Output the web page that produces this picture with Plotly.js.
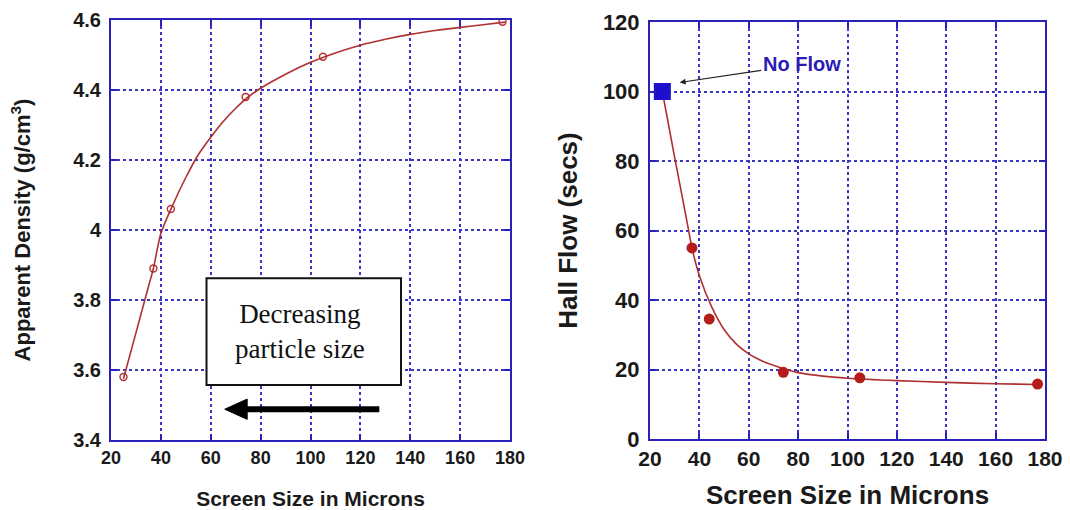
<!DOCTYPE html>
<html>
<head>
<meta charset="utf-8">
<script src="https://cdn.plot.ly/plotly-3.0.1.min.js"></script>
<style>html,body{margin:0;padding:0;background:#fff;}#chart{width:1070px;height:510px;}</style>
</head>
<body>
<div id="chart"></div>
<script>
// ---- Data ----
// Left panel: apparent density
const densityScreen = [25, 37, 44, 74, 105, 177];
const densityValues = [3.58, 3.89, 4.06, 4.38, 4.495, 4.595];
// smooth fitted curve
const densityFitX = [25, 30, 35, 37, 40, 45, 50, 55, 60, 65, 70, 75, 80, 90, 100, 110, 120, 130, 140, 150, 160, 170, 178];
const densityFitY = [3.575, 3.706, 3.838, 3.89, 3.99, 4.075, 4.15, 4.215, 4.265, 4.31, 4.348, 4.38, 4.405, 4.445, 4.479, 4.506, 4.528, 4.545, 4.559, 4.57, 4.579, 4.587, 4.594];

// Right panel: Hall flow
const flowScreen = [37, 44, 74, 105, 177];
const flowValues = [55, 34.5, 19.2, 17.6, 15.8];
const noFlowScreen = [25];
const noFlowValue = [100];
const flowFitX = [25, 30, 35, 37, 40, 45, 50, 55, 60, 65, 70, 75, 80, 90, 100, 120, 140, 160, 177];
const flowFitY = [100, 81, 62.5, 55, 47, 38, 31.5, 27.3, 24.5, 22.6, 21.2, 20.0, 19.1, 18.1, 17.5, 16.8, 16.3, 15.9, 15.7];

const xTicks = [20, 40, 60, 80, 100, 120, 140, 160, 180];
const densityTicks = [3.4, 3.6, 3.8, 4, 4.2, 4.4, 4.6];
const flowTicks = [0, 20, 40, 60, 80, 100, 120];

const blue = '#2a22b8';
const gridBlue = '#3a34c8';
const curveRed = '#b03030';
const bold = {family: 'Liberation Sans, Arial, sans-serif', weight: 'bold', color: '#1a1a1a'};

const traces = [
  {x: densityFitX, y: densityFitY, mode: 'lines', line: {color: curveRed, width: 1.6, shape: 'spline', smoothing: 0.8}, xaxis: 'x', yaxis: 'y', hoverinfo: 'skip'},
  {x: densityScreen, y: densityValues, mode: 'markers', marker: {symbol: 'circle-open', size: 7, color: curveRed, line: {width: 1.4}}, xaxis: 'x', yaxis: 'y'},
  {x: flowFitX, y: flowFitY, mode: 'lines', line: {color: curveRed, width: 1.6, shape: 'spline', smoothing: 0.8}, xaxis: 'x2', yaxis: 'y2', hoverinfo: 'skip'},
  {x: flowScreen, y: flowValues, mode: 'markers', marker: {symbol: 'circle', size: 11, color: '#b51c1c'}, xaxis: 'x2', yaxis: 'y2'},
  {x: noFlowScreen, y: noFlowValue, mode: 'markers', marker: {symbol: 'square', size: 17, color: '#1c10cc'}, xaxis: 'x2', yaxis: 'y2'}
];

function axisBase(extra) {
  return Object.assign({
    showline: true, linecolor: blue, linewidth: 2, mirror: 'ticks',
    ticks: 'inside', ticklen: 6, tickwidth: 2, tickcolor: blue,
    showgrid: true, gridcolor: gridBlue, gridwidth: 2, griddash: 'dot',
    zeroline: false, automargin: false, fixedrange: true
  }, extra);
}

const W = 1070, H = 510;
const layout = {
  width: W, height: H,
  margin: {l: 0, r: 0, t: 0, b: 0},
  paper_bgcolor: '#ffffff', plot_bgcolor: '#ffffff',
  showlegend: false,
  xaxis: axisBase({domain: [111 / W, 510 / W], range: [20, 180], tickvals: xTicks, anchor: 'y',
    tickfont: Object.assign({size: 18}, bold), ticklabelstandoff: 0,
    title: {text: 'Screen Size in Microns', font: Object.assign({size: 21}, bold), standoff: 27}}),
  yaxis: axisBase({domain: [1 - 440 / H, 1 - 20 / H], range: [3.4, 4.6], tickvals: densityTicks, anchor: 'x',
    tickfont: Object.assign({size: 20}, bold), ticklabelstandoff: 4,
    title: {text: 'Apparent Density (g/cm<sup>3</sup>)', font: Object.assign({size: 22}, bold), standoff: 36}}),
  xaxis2: axisBase({domain: [650 / W, 1045 / W], range: [20, 180], tickvals: xTicks, anchor: 'y2',
    tickfont: Object.assign({size: 21}, bold), ticklabelstandoff: 0,
    title: {text: 'Screen Size in Microns', font: Object.assign({size: 26}, bold), standoff: 21}}),
  yaxis2: axisBase({domain: [1 - 439 / H, 1 - 22 / H], range: [0, 120], tickvals: flowTicks, anchor: 'x2',
    tickfont: Object.assign({size: 22}, bold), ticklabelstandoff: 4,
    title: {text: 'Hall Flow (secs)', font: Object.assign({size: 26}, bold), standoff: 18}}),
  shapes: [
    {type: 'rect', xref: 'x', yref: 'y', x0: 58.3, x1: 136.3, y0: 3.557, y1: 3.862,
     fillcolor: '#ffffff', line: {color: '#111111', width: 2}, layer: 'above'},
    // thick "decreasing" arrow: shaft + head
    {type: 'line', xref: 'x', yref: 'y', x0: 73, x1: 127.6, y0: 3.488, y1: 3.488,
     line: {color: '#000000', width: 6}, layer: 'above'},
    {type: 'path', xref: 'x', yref: 'y', path: 'M 65.6 3.488 L 74.6 3.517 L 74.6 3.459 Z',
     fillcolor: '#000000', line: {color: '#000000', width: 1}, layer: 'above'}
  ],
  annotations: [
    {xref: 'x', yref: 'y', x: 95.8, y: 3.71, showarrow: false,
     text: 'Decreasing<br>particle size', align: 'center',
     font: {family: 'Liberation Serif, Times New Roman, serif', size: 27, color: '#111111'}},
    {xref: 'x2', yref: 'y2', x: 32, y: 102.6, ax: 122, ay: -18, showarrow: true,
     text: 'No Flow', font: {family: 'Liberation Sans, Arial, sans-serif', size: 20, weight: 'bold', color: '#2a1ab8'},
     arrowhead: 2, arrowsize: 1, arrowwidth: 1.2, arrowcolor: '#222222'}
  ]
};

Plotly.newPlot('chart', traces, layout, {displayModeBar: false, staticPlot: true});
</script>
</body>
</html>
